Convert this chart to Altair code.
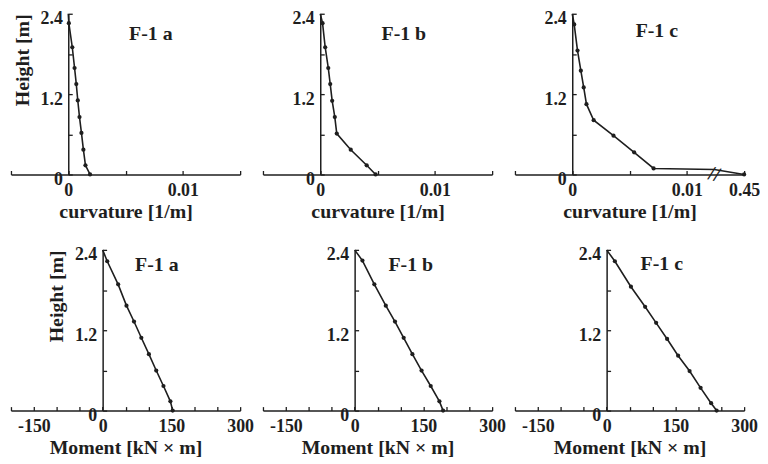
import altair as alt
import pandas as pd

# ---------------- data ----------------
# Top row: curvature [1/m] vs height [m]
h_top_a = [2.40, 2.26, 1.90, 1.59, 1.35, 1.105, 0.857, 0.62, 0.37, 0.137, 0.0]
k_a = [0.0, 0.00005, 0.00035, 0.00055, 0.0007, 0.00083, 0.00098, 0.00115, 0.00132, 0.0015, 0.0019]

h_top_b = [2.40, 2.26, 1.90, 1.59, 1.35, 1.10, 0.857, 0.61, 0.37, 0.137, 0.0]
k_b = [0.0, 0.0002, 0.00043, 0.0007, 0.00087, 0.00104, 0.00127, 0.00144, 0.00266, 0.00405, 0.00483]

h_top_c = [2.40, 2.24, 1.85, 1.55, 1.30, 1.05, 0.81, 0.58, 0.33, 0.09, 0.075, 0.0]
k_c = [0.0, 0.00017, 0.00046, 0.00075, 0.001, 0.00124, 0.00187, 0.0036, 0.0054, 0.0071, 0.0124, 0.45]
dots_c = [False, True, True, True, True, True, True, True, True, True, False, True]

# Bottom row: moment [kN x m] vs height [m]
h_bot_a = [2.40, 2.23, 1.885, 1.567, 1.33, 1.087, 0.843, 0.598, 0.367, 0.138, 0.0]
m_a = [0, 10, 33.8, 52, 68.4, 84.4, 100.9, 116.9, 132.7, 147.8, 152.8]

h_bot_b = [2.40, 2.24, 1.885, 1.567, 1.33, 1.087, 0.843, 0.598, 0.367, 0.138, 0.0]
m_b = [0, 17, 43, 68, 88, 107, 126, 146, 166, 185, 193]

h_bot_c = [2.40, 2.23, 1.85, 1.55, 1.31, 1.07, 0.82, 0.59, 0.34, 0.11, 0.0]
m_c = [0, 18, 53, 84, 108, 132, 156, 181, 205, 228, 240]

panel_names = ["F-1 a", "F-1 b", "F-1 c"]

# ticks and labels
y_label_values = [0, 1.2, 2.4]
y_label_texts = ["0", "1.2", "2.4"]
y_tick_values = [0, 0.6, 1.2, 1.8, 2.4]

curv_label_values = [0, 0.01]
curv_label_texts = ["0", "0.01"]
curv_label_values_c = [0, 0.01, 0.015]
curv_label_texts_c = ["0", "0.01", "0.45"]
curv_tick_values = [-0.005, 0, 0.005, 0.01, 0.015]

mom_label_values = [-150, 0, 150, 300]
mom_label_texts = ["-150", "0", "150", "300"]
mom_tick_values = [-200, -150, -100, -50, 0, 50, 100, 150, 200, 250, 300]

# broken axis for panel c: values above BREAK squeezed into [BREAK, 0.015]
BREAK = 0.0125
BREAK_TOP = 0.45
break_mark_k = [0.0124]
break_mark_h = [0.0]

INK = "#1e1e1e"
FONT = "Liberation Serif"
W, H = 231, 162


def label_expr(values, labels):
    expr = "''"
    for v, l in reversed(list(zip(values, labels))):
        expr = f"datum.value === {v} ? '{l}' : ({expr})"
    return expr


def panel(x_vals, h_vals, dots, name, x_domain, x_lab_vals, x_lab_txt, x_ticks,
          x_title, y_title, zero_frac, text_x, text_y, broken=False):
    df = pd.DataFrame({
        "k": x_vals,
        "h": h_vals,
        "dot": dots,
        "order": list(range(len(x_vals))),
    })
    if broken:
        calc = (f"datum.k <= {BREAK} ? datum.k : "
                f"{BREAK} + (datum.k - {BREAK}) * ({x_domain[1] - BREAK} / ({BREAK_TOP} - {BREAK}))")
    else:
        calc = "datum.k"
    base = alt.Chart(df).transform_calculate(xp=calc)
    xs = alt.Scale(domain=x_domain, nice=False, zero=False)
    ys = alt.Scale(domain=[0, 2.4], nice=False, zero=False)

    # main axes: domain line + labels + titles (no ticks)
    x_main = alt.X("xp:Q", scale=xs,
                   axis=alt.Axis(values=x_lab_vals, labelExpr=label_expr(x_lab_vals, x_lab_txt),
                                 title=x_title, labelOverlap=False, labelFlush=False,
                                 ticks=False, labelPadding=7, titlePadding=2))
    y_main = alt.Y("h:Q", scale=ys,
                   axis=alt.Axis(values=y_label_values,
                                 labelExpr=label_expr(y_label_values, y_label_texts),
                                 offset=-W * zero_frac, ticks=False, labelOffset=5,
                                 labelPadding=6, labelOverlap=False, titleAnchor="end",
                                 titlePadding=8, title="Height [m]" if y_title else ""))
    # secondary axes: inward-pointing tick marks only
    x_tick = alt.X("xp:Q", axis=alt.Axis(orient="top", offset=-H, values=x_ticks,
                                         labels=False, domain=False, title="", tickSize=4))
    y_tick = alt.Y("h:Q", axis=alt.Axis(orient="right", offset=-W * (1 - zero_frac),
                                        values=y_tick_values, labels=False, domain=False,
                                        title="", tickSize=4))

    line = base.mark_line(color=INK, strokeWidth=1.6).encode(x=x_main, y=y_main, order="order:Q")
    pts = base.transform_filter("datum.dot").mark_circle(size=18, color=INK, opacity=1).encode(
        x=x_tick, y=y_tick)
    txt = alt.Chart(pd.DataFrame({"t": [name]})).mark_text(
        font=FONT, fontSize=20, fontWeight="bold", color=INK
    ).encode(text="t:N", x=alt.value(text_x), y=alt.value(text_y))
    layers = [line, pts, txt]
    if broken:
        brk = alt.Chart(pd.DataFrame({"xp": break_mark_k, "h": break_mark_h})).mark_text(
            text="//", font="DejaVu Sans", fontSize=17, angle=15, color=INK
        ).encode(x=alt.X("xp:Q", axis=None), y=alt.Y("h:Q", axis=None))
        layers.append(brk)
    return alt.layer(*layers).resolve_axis(x="independent", y="independent").properties(
        width=W, height=H)


curv_dom = [-0.005, 0.015]
mom_dom = [-200, 300]

p1 = panel(k_a, h_top_a, [False] + [True] * 10, panel_names[0], curv_dom,
           curv_label_values, curv_label_texts, curv_tick_values,
           "curvature [1/m]", True, 0.25, 141, 20)
p2 = panel(k_b, h_top_b, [False] + [True] * 10, panel_names[1], curv_dom,
           curv_label_values, curv_label_texts, curv_tick_values,
           "curvature [1/m]", False, 0.25, 142, 20)
p3 = panel(k_c, h_top_c, dots_c, panel_names[2], curv_dom,
           curv_label_values_c, curv_label_texts_c, curv_tick_values,
           "curvature [1/m]", False, 0.25, 143, 17, broken=True)
p4 = panel(m_a, h_bot_a, [False] + [True] * 10, panel_names[0], mom_dom,
           mom_label_values, mom_label_texts, mom_tick_values,
           "Moment [kN × m]", True, 0.4, 147, 15)
p5 = panel(m_b, h_bot_b, [False] + [True] * 10, panel_names[1], mom_dom,
           mom_label_values, mom_label_texts, mom_tick_values,
           "Moment [kN × m]", False, 0.4, 149, 15)
p6 = panel(m_c, h_bot_c, [False] + [True] * 10, panel_names[2], mom_dom,
           mom_label_values, mom_label_texts, mom_tick_values,
           "Moment [kN × m]", False, 0.4, 148, 14)

chart = alt.concat(
    p1, p2, p3, p4, p5, p6,
    columns=3,
    spacing=alt.RowColnumber(row=76, column=23),
    bounds="flush",
).properties(
    padding={"left": 2, "top": 0, "right": 0, "bottom": 0},
    background="white",
).configure_view(stroke=None).configure_axis(
    grid=False,
    domainColor=INK,
    domainWidth=1.5,
    tickColor=INK,
    tickWidth=1.3,
    labelFont=FONT,
    labelFontSize=18,
    labelFontWeight="bold",
    labelColor=INK,
    titleFont=FONT,
    titleFontSize=20,
    titleFontWeight="bold",
    titleColor=INK,
)

chart.save("out.html", embed_options={"renderer": "svg", "actions": False})
